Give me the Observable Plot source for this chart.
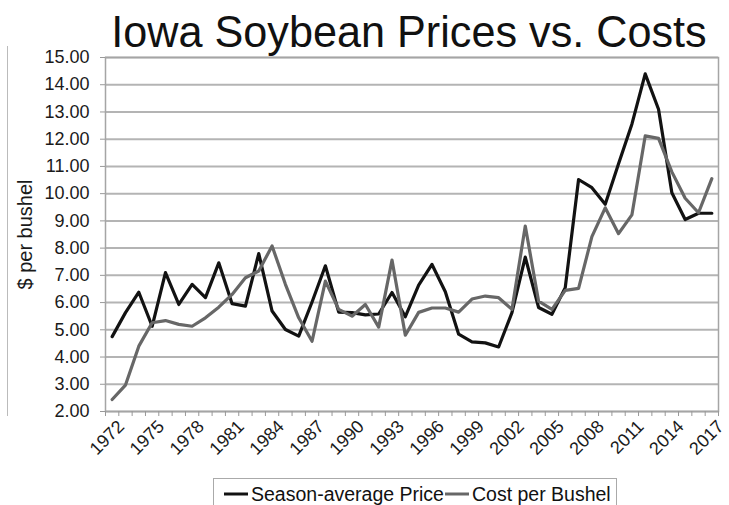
<!DOCTYPE html>
<html>
<head>
<meta charset="utf-8">
<script src="https://cdn.jsdelivr.net/npm/d3@7"></script>
<script src="https://cdn.jsdelivr.net/npm/@observablehq/plot@0.6"></script>
<style>
  html, body { margin: 0; padding: 0; background: #fff; }
  body { font-family: "Liberation Sans", Arial, Helvetica, sans-serif; }
  #wrap { position: relative; width: 729px; height: 505px; overflow: hidden; background: #fff; }
  #chart { position: absolute; left: 0; top: 0; }
  #title { position: absolute; left: 99px; top: 9px; width: 613px; text-align: center;
           font-size: 45px; line-height: 45px; color: #111; white-space: nowrap;
           transform: scaleX(0.96); transform-origin: 50% 50%; }
  #legend { position: absolute; left: 213px; top: 478px; width: 404px; height: 40px;
            border: 1.5px solid #aaa; box-sizing: border-box; display: flex; align-items: flex-start;
            padding: 2px 0 0 9px; font-size: 19.5px; color: #111; white-space: nowrap; }
  #legend .item { display: flex; align-items: center; height: 26px; }
  #legend svg { display: block; margin-right: 2px; }
  #edge { position: absolute; left: 7px; top: 46px; width: 0; height: 370px; border-left: 1.5px solid #bbb; }
</style>
</head>
<body>
<div id="wrap">
  <div id="edge"></div>
  <div id="chart"></div>
  <div id="title"></div>
  <div id="legend"></div>
</div>
<script>
const titleText = "Iowa Soybean Prices vs. Costs";
const yLabel = "$ per bushel";
const seriesNames = ["Season-average Price", "Cost per Bushel"];
const seriesColors = ["#121212", "#676767"];

const years = [1972, 1973, 1974, 1975, 1976, 1977, 1978, 1979, 1980, 1981,
               1982, 1983, 1984, 1985, 1986, 1987, 1988, 1989, 1990, 1991,
               1992, 1993, 1994, 1995, 1996, 1997, 1998, 1999, 2000, 2001,
               2002, 2003, 2004, 2005, 2006, 2007, 2008, 2009, 2010, 2011,
               2012, 2013, 2014, 2015, 2016, 2017];

const price = [4.75, 5.63, 6.38, 5.13, 7.10, 5.93, 6.67, 6.18, 7.46, 5.96,
               5.87, 7.80, 5.69, 5.01, 4.77, 6.02, 7.35, 5.65, 5.63, 5.55,
               5.58, 6.37, 5.48, 6.64, 7.40, 6.40, 4.84, 4.56, 4.52, 4.37,
               5.63, 7.67, 5.82, 5.57, 6.55, 10.52, 10.22, 9.61, 11.10, 12.55,
               14.40, 13.10, 10.03, 9.05, 9.28, 9.28];

const cost = [2.44, 2.97, 4.40, 5.26, 5.34, 5.20, 5.13, 5.44, 5.83, 6.30,
              6.91, 7.16, 8.08, 6.67, 5.44, 4.58, 6.79, 5.75, 5.50, 5.93,
              5.10, 7.56, 4.80, 5.64, 5.80, 5.80, 5.65, 6.13, 6.24, 6.18,
              5.75, 8.81, 6.05, 5.75, 6.45, 6.52, 8.42, 9.48, 8.53, 9.22,
              12.12, 12.03, 10.80, 9.83, 9.30, 10.55];

const yTicks = [2, 3, 4, 5, 6, 7, 8, 9, 10, 11, 12, 13, 14, 15];
const xTickLabels = [1972, 1975, 1978, 1981, 1984, 1987, 1990, 1993, 1996, 1999, 2002, 2005, 2008, 2011, 2014, 2017];

// Build table
const rows = [];
[price, cost].forEach((vals, s) => {
  years.forEach((yr, i) => rows.push({ year: yr, value: vals[i], series: seriesNames[s] }));
});
const boundaries = years.map(y => y - 0.5).concat([years[years.length - 1] + 0.5]);

const chart = Plot.plot({
  width: 729,
  height: 505,
  marginTop: 57,
  marginBottom: 94,
  marginLeft: 105,
  marginRight: 11,
  style: { fontFamily: '"Liberation Sans", Arial, Helvetica, sans-serif', fontSize: "18px", color: "#1a1a1a", background: "transparent" },
  x: { type: "linear", domain: [years[0] - 0.5, years[years.length - 1] + 0.5] },
  y: { domain: [yTicks[0], yTicks[yTicks.length - 1]] },
  color: { domain: seriesNames, range: seriesColors },
  marks: [
    Plot.gridY(yTicks, { stroke: "#b4b4b4", strokeWidth: 2, strokeOpacity: 1 }),
    Plot.frame({ stroke: "#a5a5a5", strokeWidth: 1.5 }),
    Plot.axisY(yTicks, { tickFormat: d => d.toFixed(2), tickSize: 5, tickPadding: 11, stroke: "#999", label: null }),
    Plot.axisY({ ticks: [], label: yLabel, labelAnchor: "center", labelArrow: "none", labelOffset: 88, fontSize: 20 }),
    Plot.axisX(boundaries, { tickFormat: () => "", tickSize: 5, stroke: "#999", label: null }),
    Plot.axisX(xTickLabels, { tickFormat: d => String(d), tickSize: 0, tickPadding: 8, tickRotate: -45, label: null, dx: 9, dy: 4 }),
    Plot.line(rows, { x: "year", y: "value", z: "series", stroke: "series", strokeWidth: 3.2 })
  ]
});
document.getElementById("chart").appendChild(chart);

document.getElementById("title").textContent = titleText;

const legend = d3.select("#legend");
seriesNames.forEach((name, i) => {
  const item = legend.append("div").attr("class", "item");
  const svg = item.append("svg").attr("width", 26).attr("height", 10);
  svg.append("line").attr("x1", 1).attr("x2", 25).attr("y1", 5).attr("y2", 5)
     .attr("stroke", seriesColors[i]).attr("stroke-width", 3);
  item.append("span").text(name);
});
</script>
</body>
</html>
